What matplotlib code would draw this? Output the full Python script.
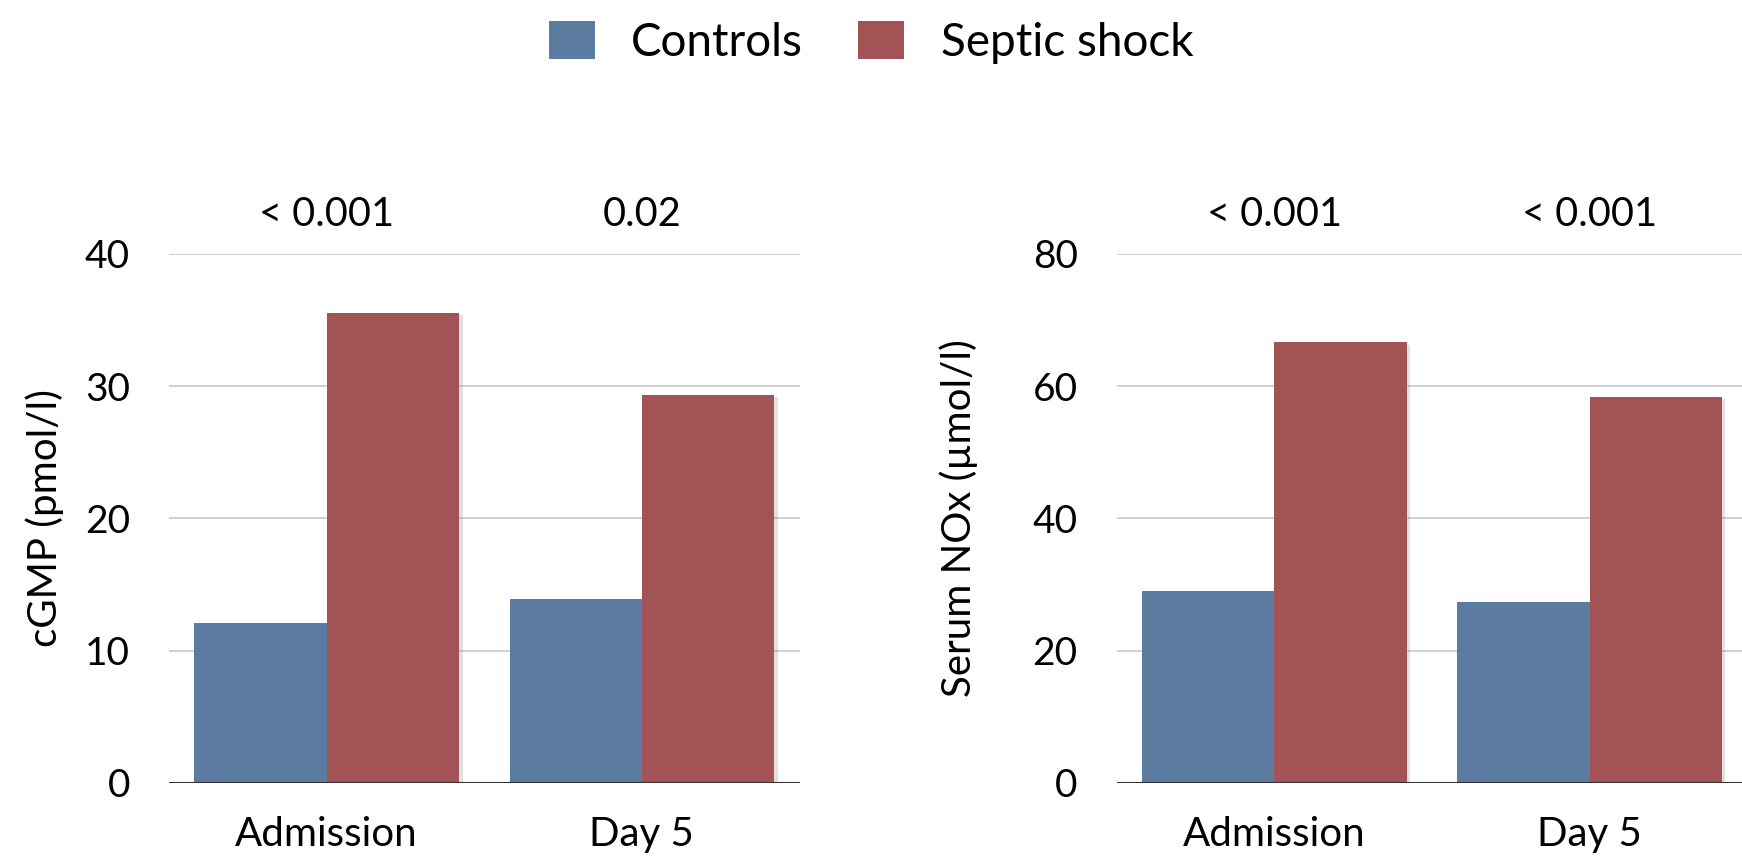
import numpy as np
import matplotlib
matplotlib.use("Agg")
import matplotlib.pyplot as plt
import matplotlib.patheffects as pe
from matplotlib.patches import Patch

plt.rcParams['font.family'] = ['Lato', 'DejaVu Sans']

timepoints = ['Admission', 'Day 5']
groups = ['Controls', 'Septic shock']
colors = ['#5b7ba0', '#a35255']

cgmp_controls = [12.1, 13.9]
cgmp_septic = [35.5, 29.3]
cgmp_p = ['< 0.001', '0.02']

nox_controls = [29.1, 27.4]
nox_septic = [66.6, 58.3]
nox_p = ['< 0.001', '< 0.001']

fig = plt.figure(figsize=(17.42, 8.59), dpi=100)
ax1 = fig.add_axes([0.097, 0.0885, 0.362, 0.616])
ax2 = fig.add_axes([0.641, 0.0885, 0.362, 0.616])

panels = [
    (ax1, cgmp_controls, cgmp_septic, cgmp_p, 40, 'cGMP (pmol/l)', -0.166),
    (ax2, nox_controls, nox_septic, nox_p, 80, 'Serum NOx (µmol/l)', -0.22),
]

x = np.arange(len(timepoints))
w = 0.42
shadow = [pe.SimplePatchShadow(offset=(2.5, -1.5), shadow_rgbFace='#888888', alpha=0.25), pe.Normal()]

for ax, ctrl, sept, pvals, ymax, ylabel, lx in panels:
    ax.set_axisbelow(True)
    ax.yaxis.grid(True, color='#c8c8c8', linewidth=1.2)
    b1 = ax.bar(x - w / 2, ctrl, w, color=colors[0], zorder=2)
    b2 = ax.bar(x + w / 2, sept, w, color=colors[1], zorder=3)
    for bar in list(b1) + list(b2):
        bar.set_path_effects(shadow)
    ax.axhline(0, color='#333333', linewidth=1.5, zorder=4)
    ax.set_xlim(-0.5, 1.5)
    ax.set_ylim(0, ymax)
    ax.set_yticks(np.linspace(0, ymax, 5))
    ax.set_xticks(x)
    ax.set_xticklabels(timepoints, fontsize=29)
    ax.tick_params(axis='both', length=0)
    ax.tick_params(axis='y', pad=28, labelsize=28)
    ax.tick_params(axis='x', pad=24)
    for s in ax.spines.values():
        s.set_visible(False)
    ax.set_ylabel(ylabel, fontsize=29)
    ax.yaxis.set_label_coords(lx, 0.5)
    for xi, p in zip(x, pvals):
        ax.text(xi, ymax * 1.075, p, ha='center', va='center', fontsize=28.5)

handles = [Patch(facecolor=c, label=g) for c, g in zip(colors, groups)]
fig.legend(handles=handles, loc='center', bbox_to_anchor=(0.5, 0.951), ncol=2,
           frameon=False, fontsize=33, handlelength=1.0, handleheight=0.9,
           columnspacing=1.2, handletextpad=0.8)

fig.savefig('out.png', dpi=100)
